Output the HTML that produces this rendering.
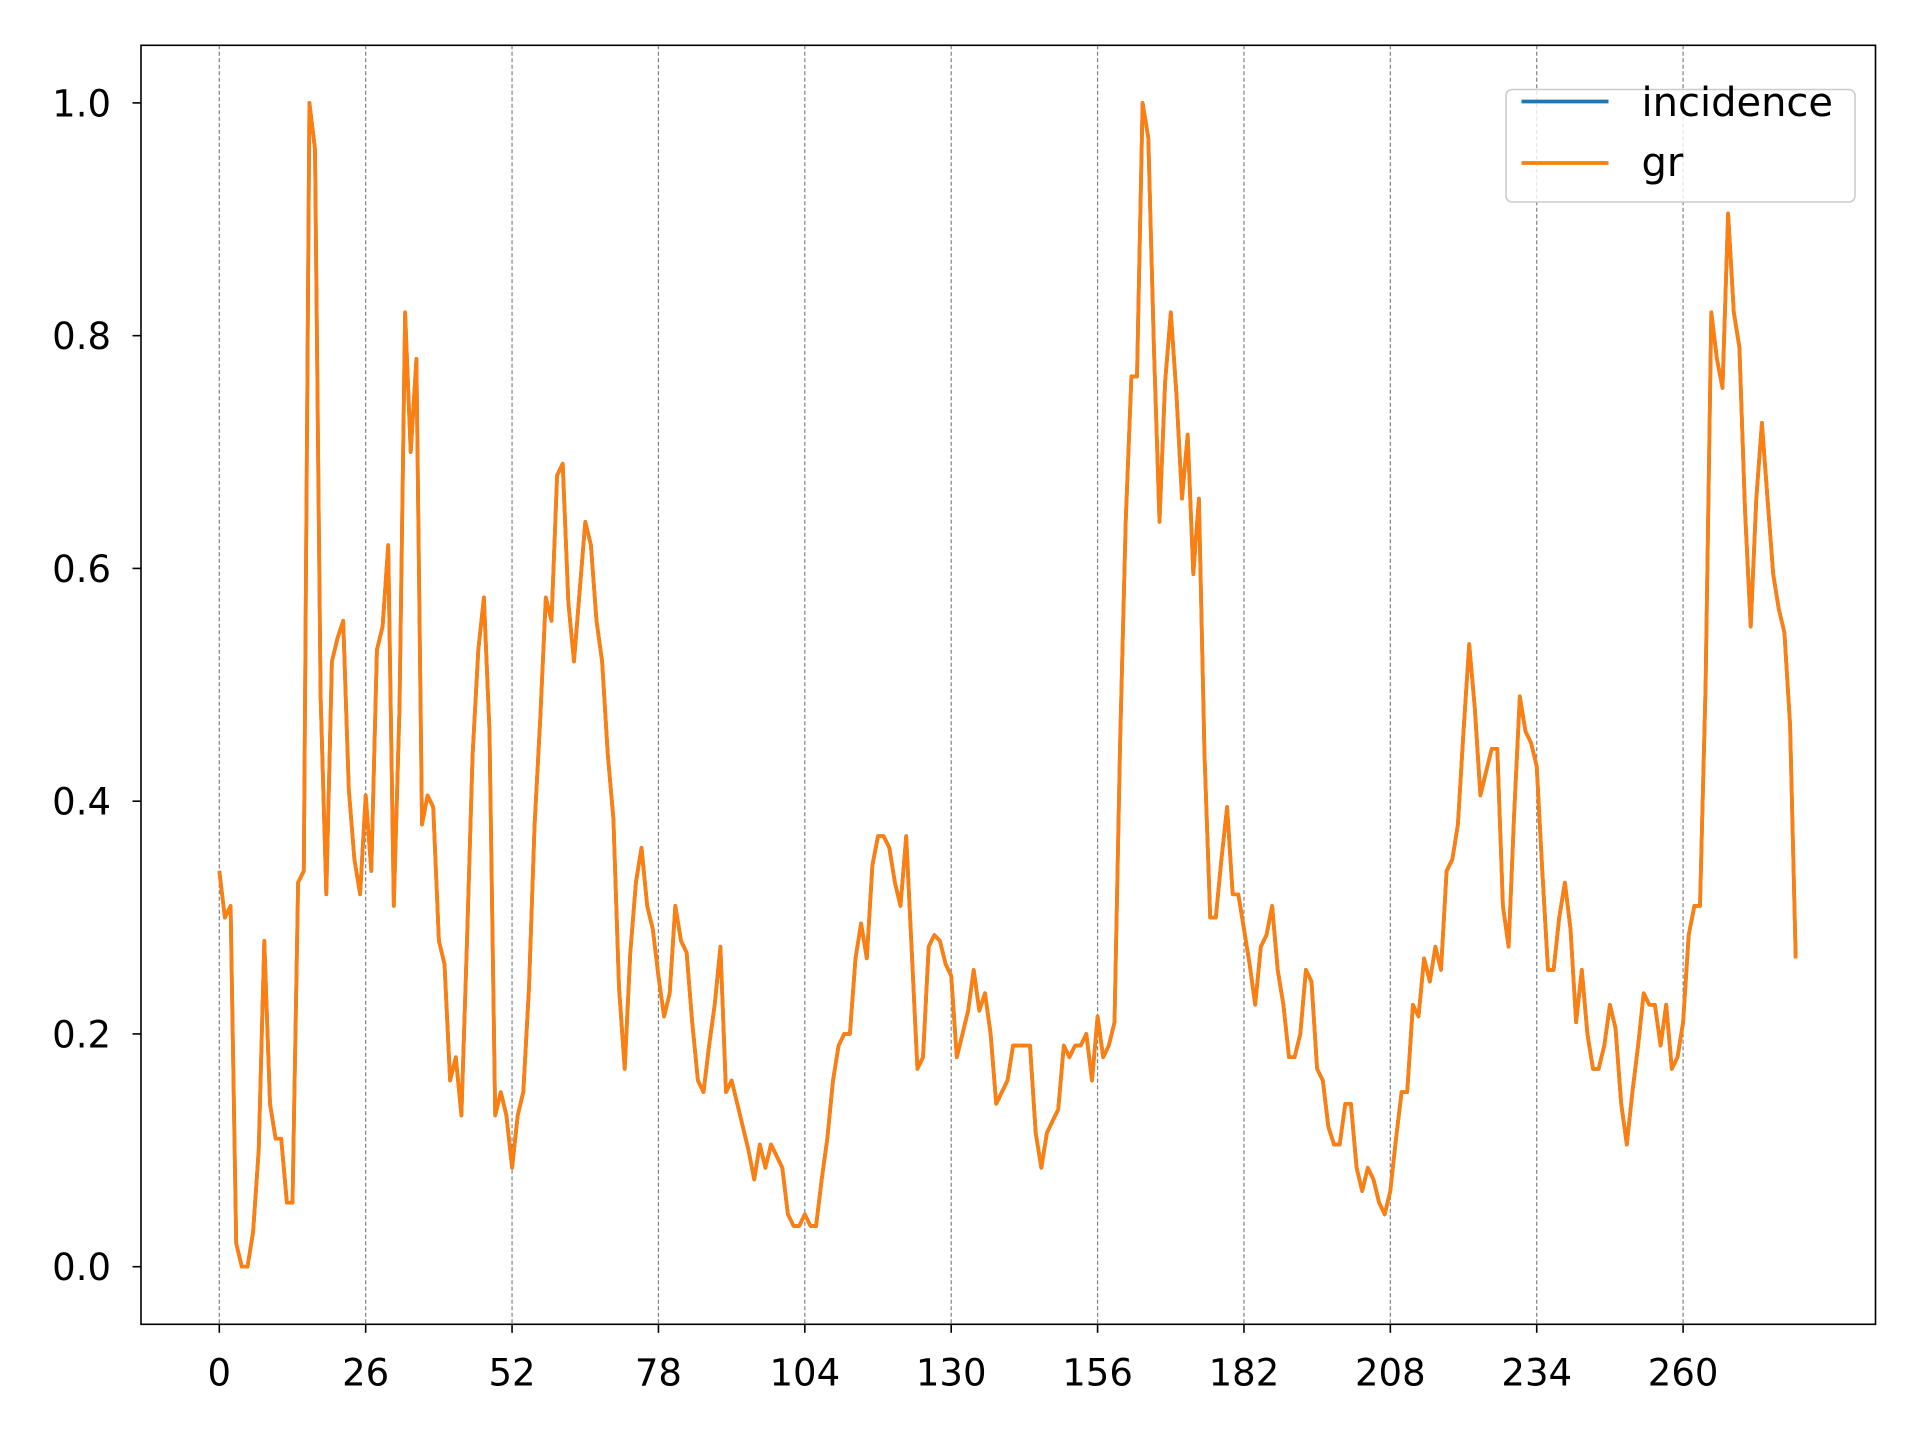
<!DOCTYPE html>
<html><head><meta charset="utf-8"><style>
html,body{margin:0;padding:0;background:#fff;}
svg{display:block;font-family:"DejaVu Sans","Liberation Sans",sans-serif;}
</style></head><body>
<svg id="chart" width="1920" height="1440" viewBox="0 0 1920 1440" xmlns="http://www.w3.org/2000/svg">
<rect x="0" y="0" width="1920" height="1440" fill="#fff"/>
<g id="grid"></g>
<g id="series"></g>
<rect x="141" y="45.3" width="1734.5" height="1279" fill="none" stroke="#000" stroke-width="1.6"/>
<g id="xticks"></g>
<g id="yticks"></g>
<g>
<rect x="1506" y="89.5" width="349" height="112.5" rx="6" fill="#fff" fill-opacity="0.8" stroke="#ccc" stroke-width="1.6"/>
<line x1="1521.5" y1="101.5" x2="1608.5" y2="101.5" stroke="#1f77b4" stroke-width="3.7"/>
<text x="1641.5" y="116" font-size="40" fill="#000">incidence</text>
<line x1="1521.5" y1="163" x2="1608.5" y2="163" stroke="#ff7f0e" stroke-width="3.7"/>
<text x="1641.5" y="176" font-size="40" fill="#000">gr</text>
</g>
</svg>
<script>
const grValues = [0.34,0.30,0.31,0.02,0.0,0.0,0.03,0.10,0.28,0.14,0.11,0.11,0.055,0.055,0.33,0.34,1.0,0.96,0.49,0.32,
0.52,0.54,0.555,0.41,0.35,0.32,0.405,0.34,0.53,0.55,0.62,0.31,0.48,0.82,0.70,0.78,0.38,0.405,0.395,0.28,
0.26,0.16,0.18,0.13,0.28,0.44,0.53,0.575,0.46,0.13,0.15,0.13,0.085,0.13,0.15,0.24,0.38,0.47,0.575,0.555,
0.68,0.69,0.57,0.52,0.58,0.64,0.62,0.555,0.52,0.44,0.385,0.24,0.17,0.27,0.33,0.36,0.31,0.29,0.25,0.215,
0.235,0.31,0.28,0.27,0.21,0.16,0.15,0.19,0.225,0.275,0.15,0.16,0.14,0.12,0.10,0.075,0.105,0.085,0.105,0.095,
0.085,0.045,0.035,0.035,0.045,0.035,0.035,0.075,0.11,0.16,0.19,0.20,0.20,0.265,0.295,0.265,0.345,0.37,0.37,0.36,
0.33,0.31,0.37,0.27,0.17,0.18,0.275,0.285,0.28,0.26,0.25,0.18,0.20,0.22,0.255,0.22,0.235,0.20,0.14,0.15,
0.16,0.19,0.19,0.19,0.19,0.115,0.085,0.115,0.125,0.135,0.19,0.18,0.19,0.19,0.20,0.16,0.215,0.18,0.19,0.21,
0.45,0.64,0.765,0.765,1.0,0.97,0.79,0.64,0.76,0.82,0.75,0.66,0.715,0.595,0.66,0.44,0.30,0.30,0.35,0.395,
0.32,0.32,0.29,0.26,0.225,0.275,0.285,0.31,0.255,0.225,0.18,0.18,0.20,0.255,0.245,0.17,0.16,0.12,0.105,0.105,
0.14,0.14,0.085,0.065,0.085,0.075,0.055,0.045,0.065,0.11,0.15,0.15,0.225,0.215,0.265,0.245,0.275,0.255,0.34,0.35,
0.38,0.46,0.535,0.48,0.405,0.425,0.445,0.445,0.31,0.275,0.39,0.49,0.46,0.45,0.43,0.34,0.255,0.255,0.30,0.33,
0.29,0.21,0.255,0.20,0.17,0.17,0.19,0.225,0.205,0.14,0.105,0.15,0.19,0.235,0.225,0.225,0.19,0.225,0.17,0.18,
0.21,0.285,0.31,0.31,0.50,0.82,0.78,0.755,0.905,0.82,0.79,0.65,0.55,0.66,0.725,0.66,0.595,0.565,0.545,0.465,0.265];
const incidenceValues = grValues.slice();
const xTickLabels = [0,26,52,78,104,130,156,182,208,234,260];
const yTickLabels = [0.0,0.2,0.4,0.6,0.8,1.0];

const NS = "http://www.w3.org/2000/svg";
const X0 = 219.3, XS = 5.630, Y0 = 1266.7, YS = 1163.8;
const TOP = 45.3, BOT = 1324.3, LEFT = 141;
function xs(i){ return X0 + i*XS; }
function ys(v){ return Y0 - v*YS; }
function mk(tag, attrs, parent){ const e=document.createElementNS(NS,tag); for(const k in attrs) e.setAttribute(k,attrs[k]); parent.appendChild(e); return e; }

const grid=document.getElementById('grid'), xt=document.getElementById('xticks'), yt=document.getElementById('yticks'), ser=document.getElementById('series');
xTickLabels.forEach(t=>{
  const x=xs(t);
  const g=mk('line',{x1:x,y1:TOP,x2:x,y2:BOT,stroke:'#808080','stroke-width':1.2,'stroke-dasharray':'4,2.5'},grid);
  
  
  const tk=mk('line',{x1:x,y1:BOT,x2:x,y2:BOT+8.5,stroke:'#000','stroke-width':1.6},xt);
  
  
  const tx=mk('text',{x:x,y:BOT+61,'font-size':37,'text-anchor':'middle',fill:'#000'},xt);
  tx.textContent=t;
  
  
});
yTickLabels.forEach(t=>{
  const y=ys(t);
  const tk=mk('line',{x1:LEFT-8.5,y1:y,x2:LEFT,y2:y,stroke:'#000','stroke-width':1.6},yt);
  
  
  const tx=mk('text',{x:LEFT-30,y:y+13.5,'font-size':37,'text-anchor':'end',fill:'#000'},yt);
  tx.textContent=t.toFixed(1);
  
  
});
function pts(arr){ return arr.map((v,i)=>xs(i).toFixed(1)+','+ys(v).toFixed(1)).join(' '); }
const l1=mk('polyline',{points:pts(incidenceValues),fill:'none',stroke:'#1f77b4','stroke-width':3.7,'stroke-linejoin':'round'},ser);


const l2=mk('polyline',{points:pts(grValues),fill:'none',stroke:'#ff7f0e','stroke-width':3.7,'stroke-linejoin':'round'},ser);


</script>
</body></html>
